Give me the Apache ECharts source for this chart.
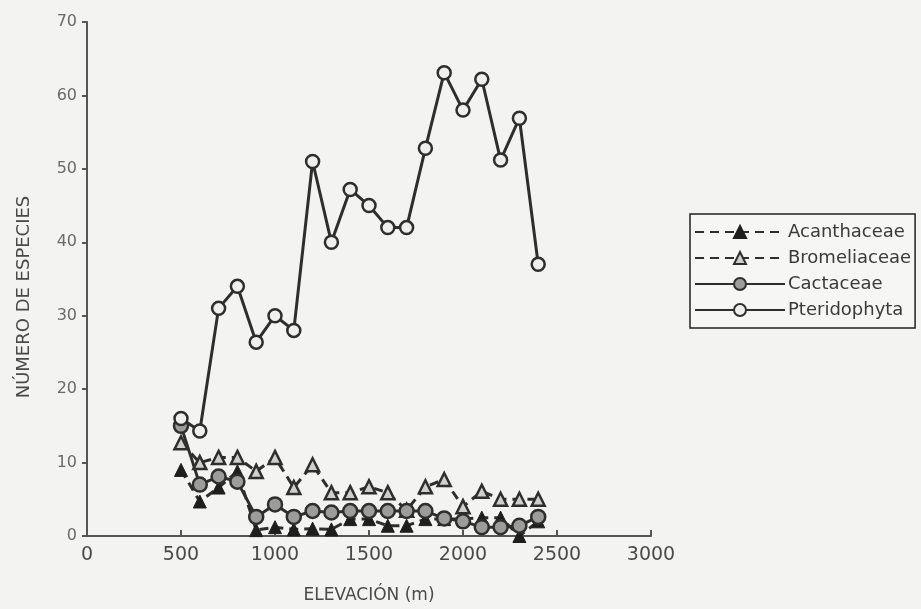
<!DOCTYPE html>
<html>
<head>
<meta charset="utf-8">
<script src="https://cdn.jsdelivr.net/npm/echarts@6/dist/echarts.min.js"></script>
<style>
    html, body { margin: 0; padding: 0; background: #f3f3f1; }
    #chart { width: 921px; height: 609px; }
</style>
</head>
<body>
<div id="chart"></div>
<script>
// elevación (m) de cada punto de muestreo
const elevations = [500, 600, 700, 800, 900, 1000, 1100, 1200, 1300, 1400,
    1500, 1600, 1700, 1800, 1900, 2000, 2100, 2200, 2300, 2400];

// número de especies por familia / grupo
const acanthaceae = [9, 4.7, 6.6, 8.8, 0.8, 1.2, 0.9, 1, 0.9, 2.3,
    2.3, 1.4, 1.4, 2.3, 2.3, 2.3, 2.5, 2.5, 0, 2];
const bromeliaceae = [12.7, 10, 10.7, 10.7, 8.8, 10.7, 6.6, 9.7, 5.9, 5.9,
    6.7, 5.9, 3.5, 6.7, 7.7, 4, 6.1, 5, 5, 5];
const cactaceae = [15, 7, 8.1, 7.4, 2.6, 4.3, 2.6, 3.4, 3.2, 3.4,
    3.4, 3.4, 3.4, 3.4, 2.4, 2, 1.2, 1.2, 1.4, 2.6];
const pteridophyta = [16, 14.3, 31, 34, 26.4, 30, 28, 51, 40, 47.2,
    45, 42, 42, 52.8, 63.1, 58, 62.2, 51.2, 56.9, 37];

const xTicks = [0, 500, 1000, 1500, 2000, 2500, 3000];
const yTicks = [0, 10, 20, 30, 40, 50, 60, 70];

const pairs = vals => vals.map((v, i) => [elevations[i], v]);

const ink = '#2e2e2e';
const font = 'DejaVu Sans, sans-serif';

let myChart = echarts.init(document.getElementById('chart'));
myChart.setOption({
    backgroundColor: '#f3f3f1',
    animation: false,
    grid: {
        left: 87,
        right: 270,
        top: 22,
        bottom: 72,
    },
    legend: {
        orient: 'vertical',
        left: 690,
        top: 214,
        padding: [9, 4, 9, 4],
        itemGap: 8,
        itemWidth: 90,
        itemHeight: 15,
        borderColor: '#222',
        borderWidth: 1.5,
        backgroundColor: '#f6f6f4',
        textStyle: {
            color: '#3a3a3a',
            fontSize: 18,
            fontFamily: font,
            padding: [0, 0, 0, -2],
        },
        data: ['Acanthaceae', 'Bromeliaceae', 'Cactaceae', 'Pteridophyta'],
    },
    xAxis: {
        type: 'value',
        min: xTicks[0],
        max: xTicks[xTicks.length - 1],
        interval: 500,
        name: 'ELEVACIÓN (m)',
        nameLocation: 'middle',
        nameGap: 51,
        nameTextStyle: { color: '#4a4a4a', fontSize: 17, fontFamily: font },
        axisLine: { lineStyle: { color: '#555', width: 2 } },
        axisTick: { inside: true, length: 6, lineStyle: { color: '#555', width: 2 } },
        axisLabel: {
            color: '#4a4a4a',
            fontSize: 19,
            fontFamily: font,
            margin: 10,
            formatter: v => String(v),
        },
        splitLine: { show: false },
    },
    yAxis: {
        type: 'value',
        min: yTicks[0],
        max: yTicks[yTicks.length - 1],
        interval: 10,
        name: 'NÚMERO DE ESPECIES',
        nameLocation: 'middle',
        nameGap: 54,
        nameTextStyle: {
            color: '#4a4a4a',
            fontSize: 18,
            fontFamily: font,
            padding: [0, 36, 0, 0],
        },
        axisLine: { show: true, lineStyle: { color: '#555', width: 2 } },
        axisTick: { show: true, length: 5, lineStyle: { color: '#555', width: 2 } },
        axisLabel: { color: '#6a6a6a', fontSize: 16, fontFamily: font, margin: 10 },
        splitLine: { show: false },
    },
    series: [
        {
            name: 'Acanthaceae',
            type: 'line',
            data: pairs(acanthaceae),
            symbol: 'triangle',
            symbolSize: 13,
            lineStyle: { color: ink, width: 3, type: [9, 6] },
            itemStyle: { color: '#1e1e1e', borderColor: '#1e1e1e', borderWidth: 1 },
        },
        {
            name: 'Bromeliaceae',
            type: 'line',
            data: pairs(bromeliaceae),
            symbol: 'triangle',
            symbolSize: 13,
            lineStyle: { color: ink, width: 3, type: [9, 6] },
            itemStyle: { color: '#cfcfcd', borderColor: ink, borderWidth: 2.5 },
        },
        {
            name: 'Cactaceae',
            type: 'line',
            data: pairs(cactaceae),
            symbol: 'circle',
            symbolSize: 14,
            lineStyle: { color: ink, width: 3 },
            itemStyle: { color: '#9c9c9a', borderColor: ink, borderWidth: 2.5 },
        },
        {
            name: 'Pteridophyta',
            type: 'line',
            data: pairs(pteridophyta),
            symbol: 'circle',
            symbolSize: 13,
            lineStyle: { color: ink, width: 3 },
            itemStyle: { color: '#efefed', borderColor: ink, borderWidth: 2.5 },
        },
    ],
});
</script>
</body>
</html>
